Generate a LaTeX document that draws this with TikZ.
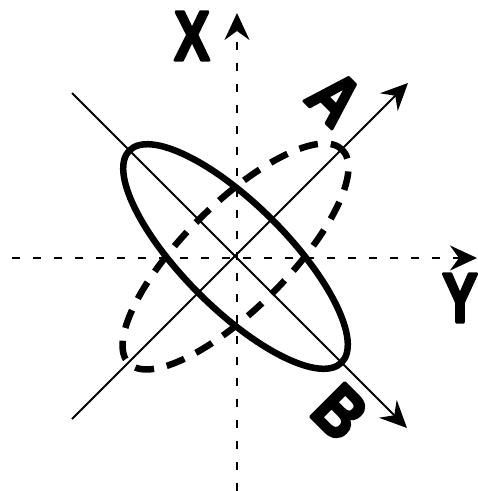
\documentclass[tikz,border=0pt]{standalone}
\usepackage{fontspec}
\setmainfont{Liberation Sans}
\usetikzlibrary{arrows.meta}
\newcommand{\heavy}[1]{\special{pdf:literal direct 2 Tr 3 w 1 j 1 J}#1\special{pdf:literal direct 0 Tr}}
\tikzset{
  arr/.style={-{Stealth[length=27pt,width=25pt,inset=9pt]}},
  axis/.style={line width=2.6pt, dash pattern=on 8pt off 13pt, arr},
  diag/.style={line width=2pt, arr},
  ell/.style={line width=6.5pt},
  dell/.style={line width=6.5pt, dash pattern=on 19pt off 13pt, dash phase=6pt},
  lbl/.style={font=\fontsize{70}{70}\selectfont\bfseries, inner sep=0pt}
}
\begin{document}
\begin{tikzpicture}[x=1pt,y=-1pt]
\useasboundingbox (0,0) rectangle (478,491);
\coordinate (O) at (235.5,256.5);
\coordinate (vb) at (237,491);
\coordinate (vt) at (237,13);
\coordinate (hl) at (12,258);
\coordinate (hr) at (477,258);
\coordinate (al) at (72,419);
\coordinate (at) at (408,83);
\coordinate (bl) at (72,93);
\coordinate (bt) at (407,428);
\draw[axis] (vb) -- (vt);
\draw[axis] (hl) -- (hr);
\draw[diag] (al) -- (at);
\draw[diag] (bl) -- (bt);
\draw[ell, rotate around={-45:(O)}] (O) ellipse [x radius=150pt, y radius=52pt];
\draw[dell, rotate around={45:(O)}] (O) ellipse [x radius=151pt, y radius=52pt];
\node[lbl] (X) at (192,36) {\scalebox{0.76}[1]{\heavy{X}}};
\node[lbl] (Y) at (460,298) {\scalebox{0.76}[1]{\heavy{Y}}};
\node[lbl, rotate=-45] (A) at (335,98) {\scalebox{0.85}[1]{\heavy{A}}};
\node[lbl, rotate=-45] (B) at (340,412) {\scalebox{0.85}[1]{\heavy{B}}};
\end{tikzpicture}
\end{document}
